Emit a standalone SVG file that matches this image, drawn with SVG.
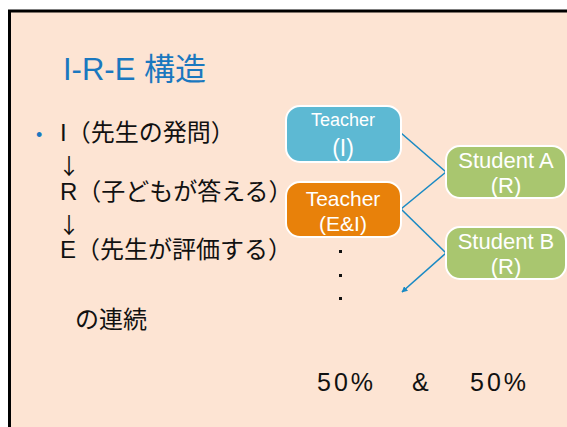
<svg xmlns="http://www.w3.org/2000/svg" width="567" height="427" viewBox="0 0 567 427">
<defs>
<style>
.node rect{stroke:#ffffff;stroke-width:2}
.nt{font-family:"Liberation Sans","Noto Sans",sans-serif;fill:#ffffff;text-anchor:middle}
.jp{font-family:"Liberation Sans","Noto Sans CJK JP",sans-serif;fill:#111111;font-size:24px}
.ar{font-family:"Noto Sans CJK JP",sans-serif;fill:#111111;font-size:22px}
.conn line{stroke:#1a8ac4;stroke-width:1.6}
</style>
<marker id="ah" viewBox="0 0 10 10" refX="9" refY="5" markerWidth="6" markerHeight="6" orient="auto" markerUnits="userSpaceOnUse">
<path d="M0,0 L10,5 L0,10 z" fill="#1a8ac4"/>
</marker>
</defs>
<rect width="567" height="427" fill="#ffffff"/>
<rect x="9.5" y="11" width="570" height="430" fill="#fde4d3" stroke="#000000" stroke-width="3"/>
<text x="63" y="80" font-family="Liberation Sans,'Noto Sans CJK JP',sans-serif" font-size="31" fill="#1a78bf">I-R-E 構造</text>
<g id="bullets">
<text x="36" y="141" font-family="Liberation Sans,sans-serif" font-size="18" fill="#1a78bf">•</text>
<text x="60" y="141" class="jp">I（先生の発問）</text>
<text x="58" y="174" class="ar">↓</text>
<text x="60" y="200" class="jp">R（子どもが答える）</text>
<text x="58" y="233" class="ar">↓</text>
<text x="60" y="258" class="jp">E（先生が評価する）</text>
<text x="75" y="328" class="jp">の連続</text>
</g>
<g id="conn" class="conn">
<line x1="401" y1="133" x2="446" y2="172"/>
<line x1="446" y1="172" x2="401" y2="209"/>
<line x1="401" y1="209" x2="446" y2="253"/>
<line x1="446" y1="253" x2="402" y2="292" marker-end="url(#ah)"/>
</g>
<g id="teacherI" class="node">
<rect x="286" y="106" width="115" height="56" rx="14" fill="#5db9d3"/>
<text x="343" y="126" class="nt" font-size="18">Teacher</text>
<text x="343" y="156" class="nt" font-size="23">(I)</text>
</g>
<g id="teacherEI" class="node">
<rect x="286" y="182" width="115" height="55" rx="14" fill="#e8810a"/>
<text x="343" y="206" class="nt" font-size="21">Teacher</text>
<text x="343" y="231" class="nt" font-size="21">(E&amp;I)</text>
</g>
<g id="studentA" class="node">
<rect x="446" y="146" width="120" height="52" rx="14" fill="#a9c66f"/>
<text x="506" y="168" class="nt" font-size="22">Student A</text>
<text x="506" y="193" class="nt" font-size="22">(R)</text>
</g>
<g id="studentB" class="node">
<rect x="446" y="227" width="120" height="52" rx="14" fill="#a9c66f"/>
<text x="506" y="249" class="nt" font-size="22">Student B</text>
<text x="506" y="274" class="nt" font-size="22">(R)</text>
</g>
<g id="dots" fill="#111111">
<rect x="339" y="250" width="3" height="3"/>
<rect x="339" y="274" width="3" height="3"/>
<rect x="339" y="297" width="3" height="3"/>
</g>
<g font-family="Liberation Sans,sans-serif" font-size="25" fill="#111111" letter-spacing="3">
<text x="317" y="391">50%</text>
<text x="412" y="391">&amp;</text>
<text x="470" y="391">50%</text>
</g>
</svg>
